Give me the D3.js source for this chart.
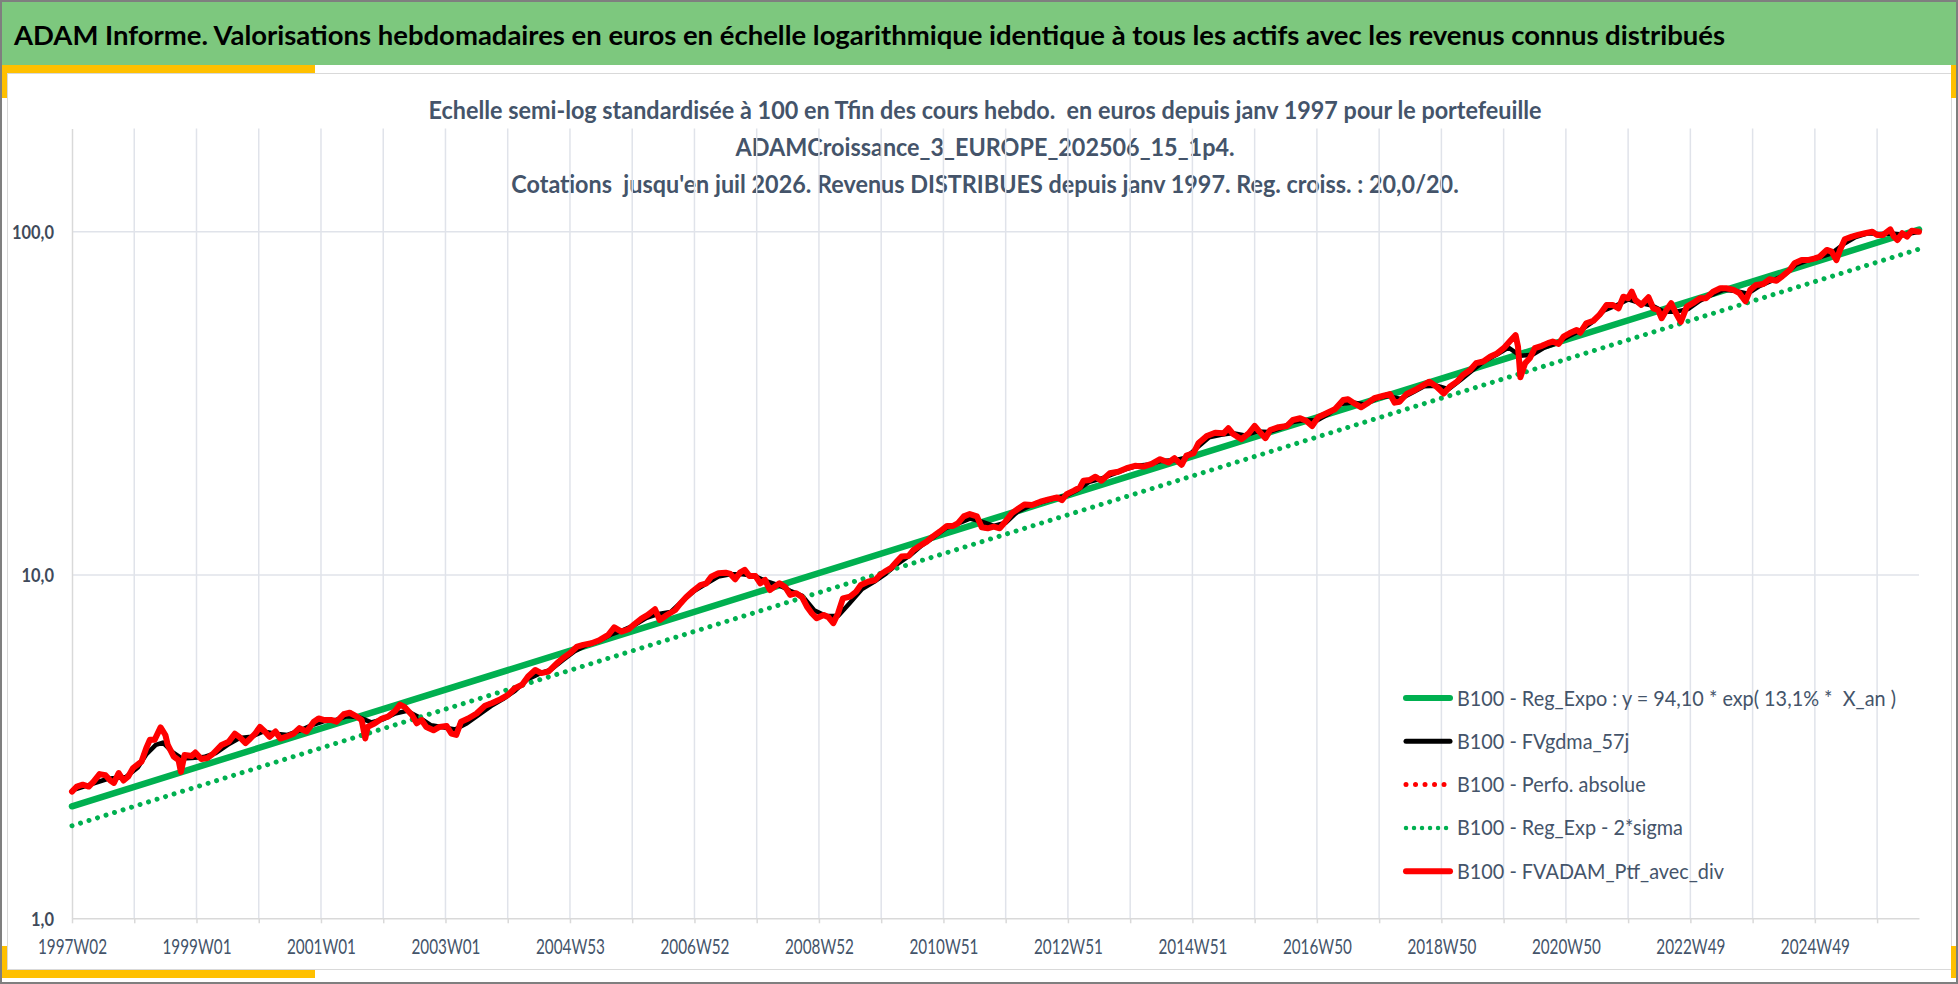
<!DOCTYPE html>
<html lang="fr">
<head>
  <meta charset="UTF-8">
  <title>ADAM Informe</title>
  <style>
    body { margin: 0; overflow: hidden; background: #fff; }
    svg { display: block; font-family: Lato, "Open Sans", sans-serif; }
    text { white-space: pre; }
    .axis path, .axis line { stroke: #D9D9D9; stroke-width: 1.5px; }
    .grid line { stroke: #E0E3EA; stroke-width: 1.5px; }
  </style>
</head>
<body>
  <script src="https://cdn.jsdelivr.net/npm/d3@7"></script>
  <script>
    const titleText = "ADAM Informe. Valorisations hebdomadaires en euros en échelle logarithmique identique à tous les actifs avec les revenus connus distribués";

    const subtitleLines = [
      "Echelle semi-log standardisée à 100 en Tfin des cours hebdo.  en euros depuis janv 1997 pour le portefeuille",
      "ADAMCroissance_3_EUROPE_202506_15_1p4.",
      "Cotations  jusqu'en juil 2026. Revenus DISTRIBUES depuis janv 1997. Reg. croiss. : 20,0/20."
    ];

    // category axis: one point per week, a label every 104 weeks, a gridline every 52
    const xTickLabels = ["1997W02", "1999W01", "2001W01", "2003W01", "2004W53", "2006W52", "2008W52",
      "2010W51", "2012W51", "2014W51", "2016W50", "2018W50", "2020W50", "2022W49", "2024W49"];
    const labelStep = 104, gridStep = 52, lastWeek = 1543;
    const yTicks = [1, 10, 100];

    const legendLabels = [
      "B100 - Reg_Expo : y = 94,10 * exp( 13,1% *  X_an )",
      "B100 - FVgdma_57j",
      "B100 - Perfo. absolue",
      "B100 - Reg_Exp - 2*sigma",
      "B100 - FVADAM_Ptf_avec_div"
    ];

    // regression line and its -2 sigma band (straight in log scale)
    const regWeeks = [0, 1543];
    const regValues = [2.12, 101.5];
    const sigmaValues = [1.86, 89.0];

    // portfolio with dividends
    const redWeeks = [0,4,9,14,18,23,28,32,35,39,43,47,51,58,62,65,69,74,78,80,85,89,91,94,100,103,108,113,118,125,
      131,136,140,145,149,153,157,161,165,170,174,179,185,190,196,202,206,211,217,221,227,232,238,242,245,247,253,259,264,270,
      274,278,284,288,292,296,302,307,313,317,321,325,331,338,345,351,358,364,370,376,381,387,392,398,405,410,416,422,
      427,434,441,448,453,459,465,470,476,481,487,491,497,504,508,513,519,525,530,534,540,546,550,554,558,562,566,571,575,579,
      583,587,591,596,600,605,610,614,618,622,628,632,636,640,644,650,655,659,665,671,675,679,684,689,693,699,703,708,714,719,
      725,731,736,740,745,750,756,760,765,770,775,779,785,791,796,802,809,816,823,827,831,837,842,
      845,850,855,860,867,874,881,888,895,902,909,916,921,927,931,937,941,948,955,962,966,970,977,983,988,992,997,1001,1008,1015,
      1020,1026,1031,1036,1041,1048,1055,1062,1066,1072,1077,1083,1088,1095,1101,1105,1109,1115,1122,1129,1134,1140,1146,1151,1157,
      1162,1168,1173,1179,1185,1190,1196,1201,1206,1208,1210,1214,1218,1222,1228,1233,1237,1242,1246,1251,1257,
      1260,1265,1271,1276,1282,1287,1292,1296,1300,1303,1306,1311,1317,1321,1325,1328,1332,1336,1340,1344,1349,1354,1360,1365,1371,
      1377,1382,1388,1393,1398,1402,1407,1413,1418,1424,1429,1435,1439,1445,1450,1456,1460,1466,1470,1474,1477,1481,1487,1492,1498,
      1504,1508,1513,1519,1522,1525,1529,1533,1537,1543];
    const redValues = [2.34,2.42,2.45,2.42,2.50,2.63,2.61,2.52,2.48,2.65,2.52,2.59,2.74,2.86,3.13,3.31,3.31,3.60,3.42,3.20,
      2.96,2.89,2.67,2.99,2.97,3.04,2.91,2.93,3.02,3.20,3.27,3.45,3.37,3.24,3.34,3.45,3.61,3.50,3.38,3.50,
      3.34,3.38,3.45,3.58,3.50,3.74,3.82,3.78,3.78,3.74,3.93,3.97,3.87,3.78,3.34,3.61,3.70,3.82,3.87,4.02,
      4.19,4.12,3.91,3.70,3.78,3.61,3.53,3.61,3.63,3.45,3.42,3.74,3.82,3.95,4.16,4.24,4.35,4.47,4.68,4.79,
      5.06,5.29,5.18,5.23,5.53,5.72,5.92,6.19,
      6.26,6.33,6.47,6.69,7.04,6.84,6.95,7.20,7.48,7.65,7.95,7.40,7.65,7.91,8.24,8.61,9.00,9.35,9.46,9.89,
      10.12,10.16,10.07,9.72,10.16,10.35,9.93,9.93,9.46,9.67,9.04,9.25,9.46,9.21,8.75,8.85,8.61,8.09,7.74,7.48,
      7.65,7.53,7.24,7.74,8.55,8.65,8.94,9.35,9.56,9.67,10.0,10.23,10.47,10.94,11.32,11.37,11.83,12.15,12.51,12.94,
      13.39,13.9,13.9,14.14,14.82,15.05,14.82,13.77,13.68,13.83,13.68,14.2,15.12,15.65,16.06,15.99,16.35,16.6,16.83,16.53,
      17.2,17.61,18.01,
      18.83,18.91,19.34,18.83,19.79,20.0,20.48,20.8,20.7,21.08,21.75,21.27,21.89,20.94,22.28,22.65,24.2,25.42,25.97,25.87,
      26.76,25.75,24.87,25.87,27.18,26.15,25.05,26.45,26.95,27.18,28.29,28.62,28.16,27.18,28.82,29.6,30.4,32.35,32.5,31.5,
      30.8,31.77,32.73,33.23,33.67,31.77,31.98,33.67,34.59,35.76,36.58,35.36,33.8,35.36,36.58,38.26,39.56,41.43,41.89,43.31,
      44.09,45.79,47.88,50.0,46.3,37.68,41.43,42.86,45.79,46.52,47.37,47.88,47.15,49.46,50.6,51.76,
      50.8,54.1,55.04,57.25,61.21,61.21,59.84,64.67,64.0,66.9,63.3,61.21,64.42,59.84,59.2,55.97,59.2,61.92,57.91,54.65,
      60.5,61.92,64.0,64.0,66.9,68.45,68.45,67.7,66.2,62.7,67.7,70.0,70.44,72.7,72.0,74.3,77.4,80.9,82.7,82.7,
      83.6,84.56,88.5,87.5,82.7,88.5,95.06,96.8,97.9,99.0,100,97.9,97.9,101.6,96.8,94.6,99.0,96.8,100.7,100];

    // 57-day moving average (black), sampled coarser
    const blackWeeks = [0,15,30,45,55,62,70,76,84,92,100,110,120,130,140,150,160,170,180,190,
      200,210,220,230,240,250,260,270,280,290,300,310,320,330,340,350,360,370,380,390,
      400,410,420,430,440,450,460,470,480,490,500,510,520,530,540,550,560,570,580,590,
      600,610,620,630,640,650,660,670,680,690,700,710,720,730,740,750,760,770,780,790,
      800,810,820,830,840,850,860,870,880,890,900,910,920,930,940,950,960,970,980,990,
      1000,1010,1020,1030,1040,1050,1060,1070,1080,1090,1100,1110,1120,1130,1140,1150,1160,1170,1180,1190,
      1200,1210,1220,1230,1240,1250,1260,1270,1280,1290,1300,1310,1320,1330,1340,1350,1360,1370,1380,1390,
      1400,1410,1420,1430,1440,1450,1460,1470,1480,1490,1500,1510,1520,1530,1543];
    const blackValues = [2.36,2.45,2.55,2.58,2.75,3.0,3.2,3.25,3.05,2.92,2.93,2.95,3.03,3.2,3.35,3.38,3.5,3.45,3.42,3.52,
      3.65,3.75,3.78,3.88,3.85,3.72,3.8,3.95,4.02,3.85,3.65,3.6,3.55,3.7,3.92,4.15,4.35,4.6,4.95,5.15,
      5.3,5.65,6.0,6.25,6.42,6.7,6.9,7.15,7.5,7.7,7.8,8.4,9.0,9.45,9.9,10.05,10.05,9.95,9.6,9.35,
      9.0,8.7,7.9,7.6,7.6,8.3,9.1,9.55,10.1,10.8,11.4,12.2,12.9,13.7,14.1,14.6,14.3,13.9,14.2,15.3,
      15.9,16.3,16.7,17.0,17.7,18.7,19.1,19.7,20.3,20.8,21.0,21.5,21.6,21.9,23.5,25.2,25.6,25.9,25.5,26.2,
      26.1,26.8,27.9,28.3,28.2,29.5,31.5,31.8,31.4,32.7,33.2,32.6,34.0,35.5,35.6,34.8,37.0,39.5,42.0,43.8,
      46.0,43.5,43.8,46.0,47.3,49.5,51.5,54.5,59.0,61.0,63.5,62.0,61.0,58.5,58.5,59.5,63.0,65.5,67.8,67.2,
      66.0,69.5,72.0,74.5,80.0,82.5,84.2,86.5,92.0,96.5,99.0,98.5,98.8,98.0,100];

    const width = 1958, height = 984;
    const fr = d3.formatLocale({decimal: ",", thousands: " ", grouping: [3], currency: ["", " €"]});

    const svg = d3.select("body").append("svg").attr("width", width).attr("height", height);
    svg.append("rect").attr("width", width).attr("height", height).attr("fill", "#fff");

    // title band
    svg.append("rect").attr("x", 0).attr("y", 0).attr("width", width).attr("height", 65).attr("fill", "#7DC87E");
    svg.append("rect").attr("x", 7.5).attr("y", 73.5).attr("width", 1944).attr("height", 896)
      .attr("fill", "none").attr("stroke", "#D9D9D9");

    // yellow corner marks
    [[0, 65, 315, 8], [0, 65, 7, 33], [0, 970, 315, 8], [0, 946, 7, 32], [1951, 65, 7, 33], [1951, 946, 7, 32]]
      .forEach(([rx, ry, rw, rh]) => {
        svg.append("rect").attr("x", rx).attr("y", ry).attr("width", rw).attr("height", rh).attr("fill", "#FFC000");
      });

    // squeeze text horizontally, the source chart is drawn narrower than the fonts
    function fitText(sel, target) {
      const w = sel.node().getComputedTextLength();
      sel.attr("textLength", target).attr("lengthAdjust", "spacingAndGlyphs");
      return target / w;
    }
    function scaleText(sel, factor) {
      sel.each(function() {
        const w = this.getComputedTextLength();
        d3.select(this).attr("textLength", w * factor).attr("lengthAdjust", "spacingAndGlyphs");
      });
    }

    const title = svg.append("text").attr("x", 14).attr("y", 45)
      .attr("font-size", 27).attr("font-weight", "bold").attr("fill", "#000").text(titleText);
    fitText(title, 1711);

    const subs = svg.append("g").selectAll("text").data(subtitleLines).enter().append("text")
      .attr("x", 985).attr("y", (d, i) => 119 + i * 37).attr("text-anchor", "middle")
      .attr("font-size", 24).attr("font-weight", "bold").attr("fill", "#44546A").text(d => d);
    const subFactor = 1113 / subs.nodes()[0].getComputedTextLength();
    scaleText(subs, subFactor);

    // scales
    const x = d3.scaleLinear().domain([0, lastWeek]).range([72, 1919]);
    const y = d3.scaleLog().domain([1, 200]).range([918.3, 128.4]);

    const gridWeeks = d3.range(0, lastWeek + 1, gridStep);

    const grid = svg.append("g").attr("class", "grid");
    grid.selectAll(".v").data(gridWeeks.slice(1)).enter().append("line").attr("class", "v")
      .attr("x1", d => x(d)).attr("x2", d => x(d)).attr("y1", y(200)).attr("y2", y(1));
    grid.selectAll(".h").data(yTicks.slice(1)).enter().append("line").attr("class", "h")
      .attr("x1", x(0)).attr("x2", x(lastWeek)).attr("y1", d => y(d)).attr("y2", d => y(d));

    const xAxis = svg.append("g").attr("class", "axis").attr("transform", `translate(0,${y(1)})`)
      .call(d3.axisBottom(x).tickValues(gridWeeks).tickSizeInner(5).tickSizeOuter(0)
        .tickFormat(d => d % labelStep === 0 ? xTickLabels[d / labelStep] : ""));
    xAxis.selectAll("text").attr("y", 21).attr("dy", "0.71em").attr("font-size", 21)
      .attr("font-family", "Lato, sans-serif").attr("fill", "#44546A");
    const xLabels = xAxis.selectAll("text").filter(d => d % labelStep === 0);
    scaleText(xLabels, 69 / xLabels.nodes()[0].getComputedTextLength());

    const yAxis = svg.append("g").attr("class", "axis").attr("transform", `translate(${x(0)},0)`)
      .call(d3.axisLeft(y).tickValues(yTicks).tickSize(0).tickFormat(fr.format(".1f")));
    yAxis.selectAll("text").attr("x", -18).attr("dy", "0.36em").attr("font-size", 19).attr("font-weight", "bold")
      .attr("font-family", "Lato, sans-serif").attr("fill", "#404A5A");
    const yLabels = yAxis.selectAll("text");
    scaleText(yLabels, 42 / yLabels.filter(d => d === 100).node().getComputedTextLength());

    // series
    const line = d3.line().x(d => x(d[0])).y(d => y(d[1]));
    const plot = svg.append("g").attr("fill", "none").attr("stroke-linejoin", "round");

    plot.append("path").datum(d3.zip(regWeeks, regValues)).attr("d", line)
      .attr("stroke", "#00B050").attr("stroke-width", 6.5).attr("stroke-linecap", "round");
    plot.append("path").datum(d3.zip(blackWeeks, blackValues)).attr("d", line)
      .attr("stroke", "#000").attr("stroke-width", 4.5);
    plot.append("path").datum(d3.zip(redWeeks, redValues)).attr("d", line)
      .attr("stroke", "#FF0000").attr("stroke-width", 5).attr("stroke-dasharray", "0.01 9").attr("stroke-linecap", "round");
    plot.append("path").datum(d3.zip(regWeeks, sigmaValues)).attr("d", line)
      .attr("stroke", "#00B050").attr("stroke-width", 5).attr("stroke-dasharray", "0.01 8.9").attr("stroke-linecap", "round");
    plot.append("path").datum(d3.zip(redWeeks, redValues)).attr("d", line)
      .attr("stroke", "#FF0000").attr("stroke-width", 6).attr("stroke-linecap", "round");

    // legend
    const legendStyles = [
      {color: "#00B050", w: 6, dash: null},
      {color: "#000", w: 5, dash: null},
      {color: "#FF0000", w: 5, dash: "0.01 9.5"},
      {color: "#00B050", w: 4.5, dash: "0.01 8"},
      {color: "#FF0000", w: 6, dash: null}
    ];
    const legend = svg.append("g").selectAll("g").data(legendLabels).enter().append("g")
      .attr("transform", (d, i) => `translate(1404,${698 + i * 43.3})`);
    legend.append("line").attr("x1", 2).attr("x2", 46).attr("y1", 0).attr("y2", 0)
      .attr("stroke", (d, i) => legendStyles[i].color).attr("stroke-width", (d, i) => legendStyles[i].w)
      .attr("stroke-linecap", "round").attr("stroke-dasharray", (d, i) => legendStyles[i].dash);
    const legendText = legend.append("text").attr("x", 53).attr("y", 7.5)
      .attr("font-size", 21).attr("fill", "#44546A").text(d => d);
    scaleText(legendText, 439 / legendText.nodes()[0].getComputedTextLength());

    // outer frame
    svg.append("rect").attr("x", 1).attr("y", 1).attr("width", width - 2).attr("height", height - 2)
      .attr("fill", "none").attr("stroke", "#7F7F7F").attr("stroke-width", 2);
  </script>
</body>
</html>
